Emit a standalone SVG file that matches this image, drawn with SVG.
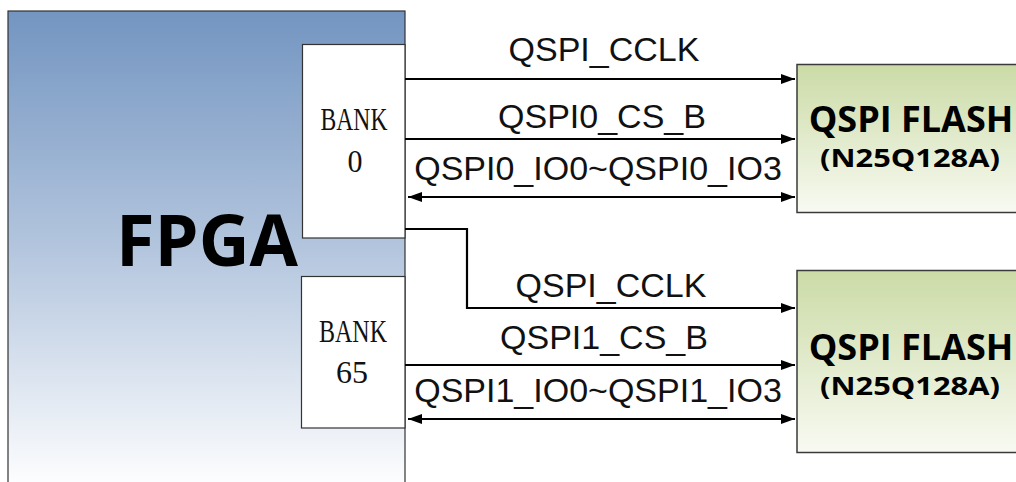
<svg xmlns="http://www.w3.org/2000/svg" width="1016" height="482" viewBox="0 0 1016 482">
  <defs>
    <linearGradient id="gFpga" x1="0" y1="0" x2="0" y2="1">
      <stop offset="0" stop-color="#7395c1"/>
      <stop offset="0.5" stop-color="#b4c6de"/>
      <stop offset="1" stop-color="#ffffff"/>
    </linearGradient>
    <linearGradient id="gFlash" x1="0" y1="0" x2="0" y2="1">
      <stop offset="0" stop-color="#cbdba6"/>
      <stop offset="1" stop-color="#f8faf2"/>
    </linearGradient>
    <marker id="ah" viewBox="0 0 14 10" refX="14" refY="5" markerWidth="14" markerHeight="10" markerUnits="userSpaceOnUse" orient="auto-start-reverse">
      <path d="M0,0 L14,5 L0,10 Z" fill="#000"/>
    </marker>
    <style>
      .bank { fill: #fff; stroke: #333; stroke-width: 1.2; }
      .bankT { font-family: "Liberation Serif", serif; font-size: 31px; fill: #111; text-anchor: middle; }
      .sig { font-family: "Liberation Sans", Arial, sans-serif; font-size: 34px; fill: #111; text-anchor: middle; }
      .flash { fill: url(#gFlash); stroke: #3a3a3a; stroke-width: 1.5; }
      .flT { font-family: "Open Sans", "Noto Sans", sans-serif; font-weight: bold; fill: #000; text-anchor: middle; }
      .wire { fill: none; stroke: #000; stroke-width: 2.2; }
    </style>
  </defs>

  <g id="fpga">
    <rect x="8" y="11" width="397" height="480" fill="url(#gFpga)" stroke="#333" stroke-width="1.2"/>
    <text x="207" y="266" font-family="Open Sans, Noto Sans, sans-serif" font-weight="bold" font-size="72" text-anchor="middle" textLength="182" lengthAdjust="spacingAndGlyphs">FPGA</text>
  </g>

  <g id="bank0">
    <rect class="bank" x="302.5" y="44.5" width="102.5" height="193.5"/>
    <text class="bankT" x="354" y="130" textLength="67" lengthAdjust="spacingAndGlyphs">BANK</text>
    <text class="bankT" x="355" y="172" textLength="15" lengthAdjust="spacingAndGlyphs">0</text>
  </g>

  <g id="bank65">
    <rect class="bank" x="301.5" y="276.5" width="103.5" height="151.5"/>
    <text class="bankT" x="353" y="342" textLength="68" lengthAdjust="spacingAndGlyphs">BANK</text>
    <text class="bankT" x="352" y="383" textLength="32" lengthAdjust="spacingAndGlyphs">65</text>
  </g>

  <g id="flash0">
    <rect class="flash" x="797" y="64.5" width="230" height="148"/>
    <text class="flT" x="911" y="132" font-size="36">QSPI FLASH</text>
    <text class="flT" x="910" y="167" font-size="25" textLength="180" lengthAdjust="spacingAndGlyphs">(N25Q128A)</text>
  </g>

  <g id="flash1">
    <rect class="flash" x="797" y="270.5" width="230" height="182"/>
    <text class="flT" x="911" y="360" font-size="36">QSPI FLASH</text>
    <text class="flT" x="910" y="395" font-size="25" textLength="180" lengthAdjust="spacingAndGlyphs">(N25Q128A)</text>
  </g>

  <g id="connectors">
    <line class="wire" x1="405" y1="79" x2="795" y2="79" marker-end="url(#ah)"/>
    <line class="wire" x1="405" y1="139" x2="795" y2="139" marker-end="url(#ah)"/>
    <line class="wire" x1="408" y1="197" x2="795" y2="197" marker-start="url(#ah)" marker-end="url(#ah)"/>
    <path class="wire" d="M405,229 H467 V308 H795" marker-end="url(#ah)"/>
    <line class="wire" x1="405" y1="365" x2="795" y2="365" marker-end="url(#ah)"/>
    <line class="wire" x1="408" y1="419" x2="795" y2="419" marker-start="url(#ah)" marker-end="url(#ah)"/>
    <text class="sig" x="604" y="61">QSPI_CCLK</text>
    <text class="sig" x="602" y="128">QSPI0_CS_B</text>
    <text class="sig" x="598" y="180">QSPI0_IO0~QSPI0_IO3</text>
    <text class="sig" x="611" y="297">QSPI_CCLK</text>
    <text class="sig" x="604" y="349">QSPI1_CS_B</text>
    <text class="sig" x="598" y="402">QSPI1_IO0~QSPI1_IO3</text>
  </g>
</svg>
